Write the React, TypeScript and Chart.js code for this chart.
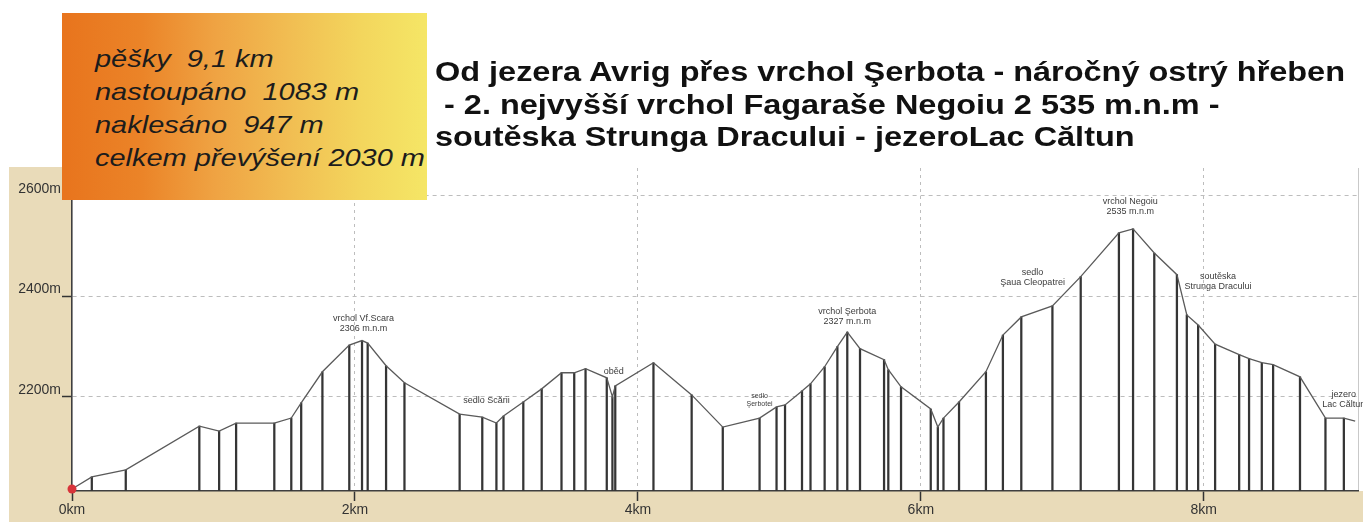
import React, { useEffect, useLayoutEffect, useRef } from "react";
import { Chart, registerables } from "chart.js";

Chart.register(...registerables);

// ---- data ----
const distanceKm = [
  0.0, 0.14, 0.38, 0.9, 1.04, 1.16, 1.43, 1.55, 1.62, 1.77, 1.96, 2.05, 2.09, 2.22, 2.35,
  2.74, 2.9, 3.0, 3.05, 3.19, 3.32, 3.46, 3.55, 3.63, 3.78, 3.82, 3.84, 4.11, 4.38, 4.6,
  4.86, 4.98, 5.04, 5.16, 5.22, 5.32, 5.41, 5.48, 5.57, 5.74, 5.77, 5.86, 6.07, 6.12, 6.16,
  6.27, 6.46, 6.58, 6.71, 6.93, 7.13, 7.4, 7.5, 7.65, 7.81, 7.88, 7.96, 8.08, 8.25, 8.32,
  8.41, 8.49, 8.68, 8.86, 8.99, 9.07,
];
const elevationM = [
  2017, 2041, 2055, 2142, 2132, 2148, 2148, 2158, 2188, 2250, 2303, 2312, 2307, 2262, 2228,
  2166, 2160, 2148, 2162, 2190, 2216, 2248, 2248, 2256, 2238, 2200, 2222, 2268, 2204, 2140,
  2158, 2180, 2184, 2212, 2226, 2260, 2300, 2329, 2296, 2274, 2254, 2220, 2176, 2140, 2158,
  2190, 2250, 2323, 2359, 2381, 2439, 2526, 2534, 2486, 2443, 2363, 2343, 2305, 2284, 2276,
  2268, 2264, 2240, 2158, 2158, 2152,
];
const xTicksKm = [0, 2, 4, 6, 8];
const yTicksM = [2200, 2400, 2600];

const labelKm = [2.06, 2.93, 3.83, 4.86, 5.48, 7.48, 6.79, 8.1, 8.99];
const labelElev = [2355, 2192, 2250, 2202, 2369, 2588, 2447, 2439, 2204];
const labelLines = [
  ["vrchol Vf.Scara", "2306 m.n.m"],
  ["sedlo Scării"],
  ["oběd"],
  ["sedlo", "Şerbotei"],
  ["vrchol Şerbota", "2327 m.n.m"],
  ["vrchol Negoiu", "2535 m.n.m"],
  ["sedlo", "Şaua Cleopatrei"],
  ["soutěska", "Strunga Dracului"],
  ["jezero", "Lac Căltun"],
];
const labelSmall = [false, false, false, true, false, false, false, false, false];

const infoLines = ["pěšky  9,1 km", "nastoupáno  1083 m", "naklesáno  947 m", "celkem převýšení 2030 m"];
const titleLines = [
  "Od jezera Avrig přes vrchol Şerbota - náročný ostrý hřeben",
  " - 2. nejvyšší vrchol Fagaraše Negoiu 2 535 m.n.m -",
  "soutěska Strunga Dracului - jezeroLac Căltun",
];

const FONT = "'Liberation Sans', Arial, Helvetica, sans-serif";

function FitLines(props: {
  lines: string[];
  targetWidth: number;
  style: React.CSSProperties;
}) {
  const ref = useRef<HTMLDivElement>(null);
  useLayoutEffect(() => {
    const el = ref.current;
    if (!el) return;
    el.style.transform = "none";
    let maxW = 0;
    el.querySelectorAll("span").forEach((s) => {
      maxW = Math.max(maxW, (s as HTMLElement).getBoundingClientRect().width);
    });
    if (maxW > 0) el.style.transform = `scaleX(${props.targetWidth / maxW})`;
  }, []);
  return (
    <div ref={ref} style={{ ...props.style, transformOrigin: "left top", whiteSpace: "pre" }}>
      {props.lines.map((l, i) => (
        <div key={i}>
          <span>{l}</span>
        </div>
      ))}
    </div>
  );
}

const bgPlugin = {
  id: "bgPlugin",
  beforeDraw(chart: any) {
    const { ctx, chartArea: a } = chart;
    ctx.save();
    ctx.fillStyle = "#e9dbb9";
    ctx.fillRect(9, 167, a.left - 9, chart.height - 167);
    ctx.fillRect(9, a.bottom, chart.width - 9, chart.height - a.bottom);
    ctx.fillStyle = "#ffffff";
    ctx.fillRect(a.left, a.top, a.right - a.left, a.bottom - a.top);
    ctx.strokeStyle = "#c9c9c9";
    ctx.lineWidth = 1;
    ctx.beginPath();
    ctx.moveTo(a.right + 0.5, a.top);
    ctx.lineTo(a.right + 0.5, a.bottom);
    ctx.stroke();
    ctx.restore();
  },
};

const labelPlugin = {
  id: "labelPlugin",
  afterDatasetsDraw(chart: any) {
    const { ctx } = chart;
    const xs = chart.scales.x;
    const ys = chart.scales.y;
    ctx.save();
    ctx.fillStyle = "#3c3c3c";
    ctx.textAlign = "center";
    ctx.textBaseline = "middle";
    labelKm.forEach((k, i) => {
      const px = xs.getPixelForValue(k);
      const py = ys.getPixelForValue(labelElev[i]);
      const small = labelSmall[i];
      ctx.font = `${small ? 7 : 9}px ${FONT}`;
      const lh = small ? 8 : 10;
      labelLines[i].forEach((t, j) => ctx.fillText(t, px, py + j * lh));
    });
    ctx.restore();
  },
};

export default function App() {
  const canvasRef = useRef<HTMLCanvasElement>(null);

  useEffect(() => {
    const canvas = canvasRef.current;
    if (!canvas) return;
    const linePoints = distanceKm.map((k, i) => ({ x: k, y: elevationM[i] }));
    const dropPoints = linePoints.slice(1, -1);

    const chart = new Chart(canvas, {
      type: "line",
      data: {
        datasets: [
          {
            type: "line",
            data: linePoints,
            borderColor: "#5a5a5a",
            borderWidth: 1.3,
            tension: 0,
            pointRadius: (c: any) => (c.dataIndex === 0 ? 4.5 : 0),
            pointBackgroundColor: "#d8343a",
            pointBorderWidth: 0,
            clip: false as any,
            order: 0,
          } as any,
          {
            type: "bar",
            data: dropPoints,
            backgroundColor: "#353535",
            borderWidth: 0,
            barThickness: 1.6,
            order: 1,
          } as any,
        ],
      },
      options: {
        responsive: false,
        maintainAspectRatio: false,
        animation: false,
        devicePixelRatio: 1,
        layout: { padding: { top: 168, right: 5, left: 0, bottom: 0 } },
        plugins: {
          legend: { display: false },
          tooltip: { enabled: false },
          title: { display: false },
        },
        scales: {
          x: {
            type: "linear",
            min: 0,
            max: 9.09,
            offset: false,
            afterBuildTicks: (s: any) => {
              s.ticks = xTicksKm.map((v) => ({ value: v }));
            },
            afterFit: (s: any) => {
              s.height = 31;
            },
            grid: {
              offset: false,
              color: (c: any) => (c.tick && c.tick.value === 0 ? "rgba(0,0,0,0)" : "#bdbdbd"),
              lineWidth: 1,
              drawTicks: true,
              tickLength: 10,
              tickColor: "#333333",
              tickWidth: 1.5,
              tickBorderDash: [],
            } as any,
            border: { display: true, color: "#3f3f3f", width: 1.6, dash: [3, 4] },
            ticks: {
              callback: (v: any) => `${v}km`,
              font: { family: FONT, size: 14 },
              color: "#333333",
              padding: 1,
              maxRotation: 0,
              autoSkip: false,
            },
          },
          y: {
            type: "linear",
            min: 2013,
            max: 2655,
            afterBuildTicks: (s: any) => {
              s.ticks = yTicksM.map((v) => ({ value: v }));
            },
            afterFit: (s: any) => {
              s.width = 72;
            },
            grid: {
              color: "#bdbdbd",
              lineWidth: 1,
              drawTicks: true,
              tickLength: 10,
              tickColor: "#333333",
              tickWidth: 1.5,
              tickBorderDash: [],
            } as any,
            border: { display: true, color: "#3f3f3f", width: 1.6, dash: [4, 4] },
            ticks: {
              callback: (v: any) => `${v}m`,
              font: { family: FONT, size: 14 },
              color: "#333333",
              padding: 1,
              labelOffset: -7,
              autoSkip: false,
            },
          },
        },
      },
      plugins: [bgPlugin, labelPlugin],
    });
    return () => chart.destroy();
  }, []);

  return (
    <div
      style={{
        position: "absolute",
        left: 0,
        top: 0,
        width: 1363,
        height: 522,
        overflow: "hidden",
        background: "#ffffff",
      }}
    >
      <canvas
        ref={canvasRef}
        width={1363}
        height={522}
        style={{ position: "absolute", left: 0, top: 0, width: 1363, height: 522 }}
      />
      <div
        style={{
          position: "absolute",
          left: 62,
          top: 13,
          width: 365,
          height: 187,
          background:
            "linear-gradient(to right, #e8741d 0%, #eb8428 22%, #efa343 42%, #f1bd52 62%, #f3d65d 82%, #f5e666 100%)",
        }}
      />
      <FitLines
        lines={infoLines}
        targetWidth={330}
        style={{
          position: "absolute",
          left: 95,
          top: 42,
          fontFamily: FONT,
          fontStyle: "italic",
          fontSize: 24,
          lineHeight: "33px",
          color: "#1c1c1c",
        }}
      />
      <FitLines
        lines={titleLines}
        targetWidth={910}
        style={{
          position: "absolute",
          left: 435,
          top: 56,
          fontFamily: FONT,
          fontWeight: "bold",
          fontSize: 28,
          lineHeight: "32.5px",
          color: "#111111",
        }}
      />
    </div>
  );
}
